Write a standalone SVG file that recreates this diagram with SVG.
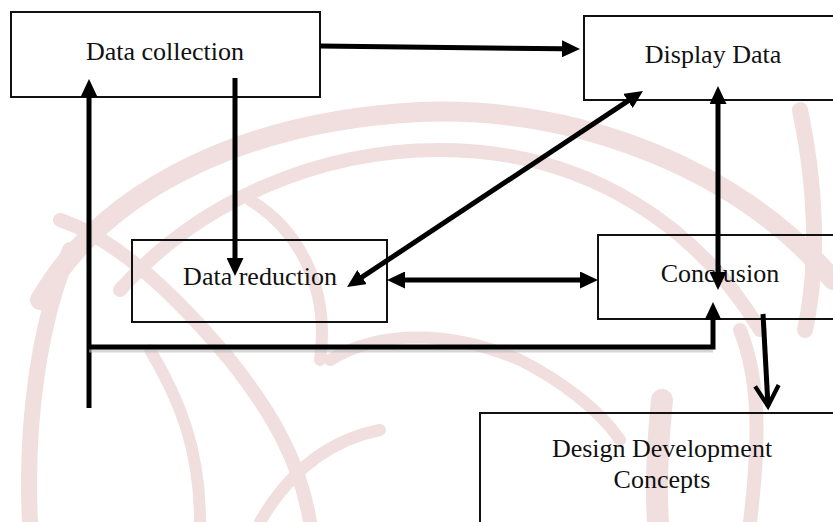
<svg xmlns="http://www.w3.org/2000/svg" width="833" height="522" viewBox="0 0 833 522">
  <style>
    .box { fill: none; stroke: #111; stroke-width: 2; }
    .lbl { font-family: "Liberation Serif", "Times New Roman", serif; font-size: 26px; fill: #111; text-anchor: middle; }
    .con { fill: none; stroke: #000; stroke-width: 5; }
    .wm { fill: none; stroke: #f1dfdf; stroke-linecap: round; }
  </style>
  <defs>
    <marker id="ah" markerUnits="userSpaceOnUse" markerWidth="18" markerHeight="17" viewBox="0 0 18 17" refX="1" refY="8.5" orient="auto-start-reverse">
      <path d="M0,0 L18,8.5 L0,17 z" fill="#000"/>
    </marker>
    <marker id="open" markerUnits="userSpaceOnUse" markerWidth="30" markerHeight="30" viewBox="-2 -14 24 28" refX="19" refY="0" orient="auto">
      <path d="M0,-11 L19,0 L0,11" fill="none" stroke="#000" stroke-width="4"/>
    </marker>
  </defs>
  <rect width="833" height="522" fill="#fff"/>

  <g id="watermark">
    <path class="wm" stroke-width="20" d="M40,300 C110,180 260,120 420,112 C580,106 740,170 833,280"/>
    <path class="wm" stroke-width="14" d="M120,290 C200,200 320,150 440,150 C590,150 700,230 760,330"/>
    <path class="wm" stroke-width="16" d="M30,522 C25,420 40,320 70,250"/>
    <path class="wm" stroke-width="12" d="M200,522 C200,450 180,400 150,350"/>
    <path class="wm" stroke-width="14" d="M60,220 C120,240 180,300 230,360 C270,410 300,460 310,522"/>
    <path class="wm" stroke-width="12" d="M250,200 C300,230 330,290 320,360"/>
    <path class="wm" stroke-width="16" d="M800,110 C815,180 820,260 805,330"/>
    <path class="wm" stroke-width="14" d="M740,330 C760,380 760,440 750,522"/>
    <path class="wm" stroke-width="22" d="M662,400 C658,440 655,480 658,522"/>
    <path class="wm" stroke-width="12" d="M330,360 C380,330 450,330 520,360 C560,380 600,410 620,440"/>
    <path class="wm" stroke-width="12" d="M260,522 C290,470 330,440 380,430"/>
  </g>

  <g id="data-collection">
    <rect class="box" x="11" y="12" width="309" height="85"/>
    <text class="lbl" x="165" y="60">Data collection</text>
  </g>
  <g id="display-data">
    <rect class="box" x="584" y="16" width="260" height="84"/>
    <text class="lbl" x="713" y="63">Display Data</text>
  </g>
  <g id="data-reduction">
    <rect class="box" x="132" y="240" width="255" height="82"/>
    <text class="lbl" x="260" y="285">Data reduction</text>
  </g>
  <g id="conclusion">
    <rect class="box" x="598" y="235" width="250" height="84"/>
    <text class="lbl" x="720" y="282">Conclusion</text>
  </g>
  <g id="design-development-concepts">
    <rect class="box" x="480" y="413" width="370" height="120"/>
    <text class="lbl" x="662" y="457">Design Development</text>
    <text class="lbl" x="662" y="488">Concepts</text>
  </g>

  <g id="connectors">
    <path class="con" d="M320,46 L563,48.8" marker-end="url(#ah)"/>
    <path class="con" stroke-width="4" d="M235,78 L235,259" marker-end="url(#ah)"/>
    <path class="con" stroke-width="4" d="M89,408 L89,96" marker-end="url(#ah)"/>
    <path d="M89,350 H713" stroke="#bbb" stroke-width="5" fill="none" opacity="0.6"/>
    <path class="con" d="M89,347 H713 V319" marker-end="url(#ah)"/>
    <path class="con" stroke-width="4" d="M718,103 L718,273" marker-start="url(#ah)" marker-end="url(#ah)"/>
    <path class="con" d="M628.8,100.4 L361.2,277.6" marker-start="url(#ah)" marker-end="url(#ah)"/>
    <path class="con" stroke-width="4" d="M404,280 L581,280" marker-start="url(#ah)" marker-end="url(#ah)"/>
    <path class="con" stroke-width="4" d="M763,314 L768,406" marker-end="url(#open)"/>
  </g>
</svg>
